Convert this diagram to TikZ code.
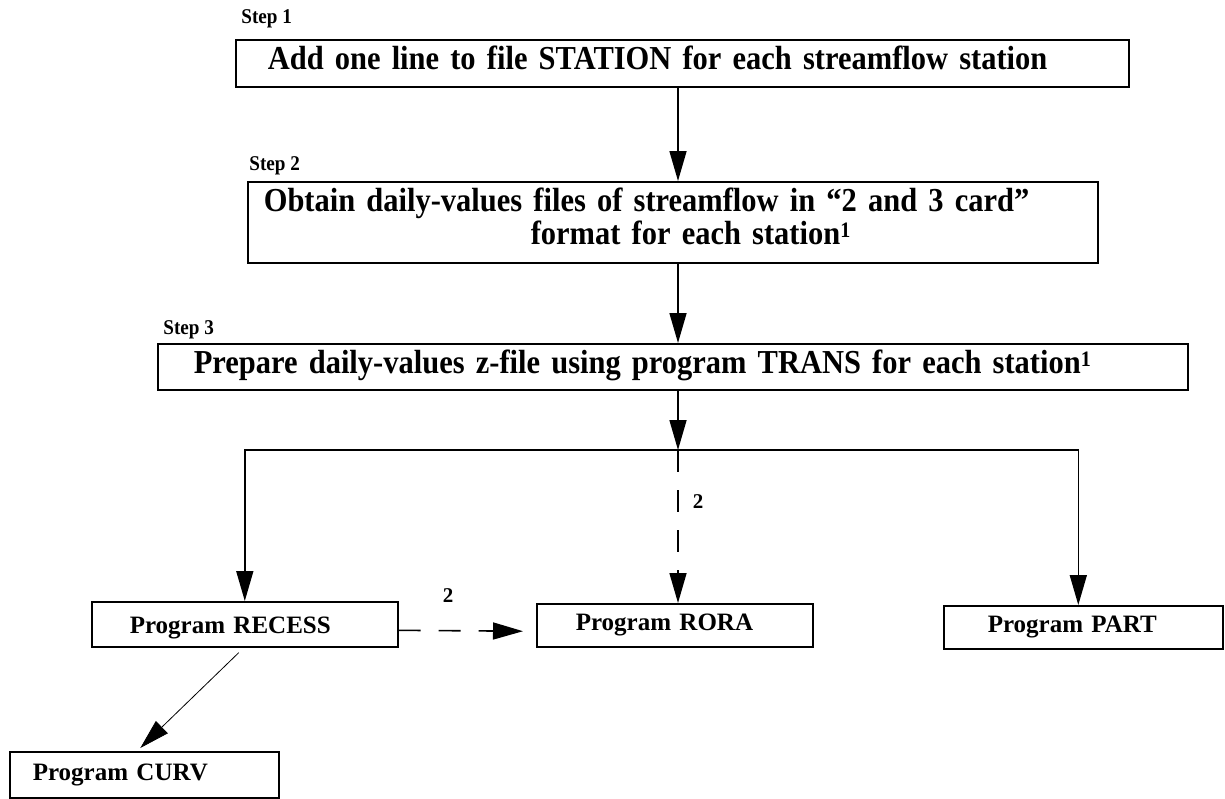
\documentclass[tikz,border=0pt]{standalone}
\usepackage{fontspec}
\setmainfont{Liberation Serif}
\newfontfamily\narrowserif[FakeStretch=0.91]{Liberation Serif}
\newcommand\stepfont{\narrowserif\fontsize{16.75}{16.25}\selectfont\bfseries\setlength{\lineskiplimit}{-20pt}}
\newcommand\notemark[1]{\raisebox{3.5pt}{\fontsize{11}{11}\selectfont #1}}
\usetikzlibrary{arrows.meta}
\begin{document}
\begin{tikzpicture}[x=0.5pt,y=-0.5pt,
stepbox/.style={draw, line width=0.8pt, anchor=north west, align=left, inner ysep=0pt, font=\stepfont},
progbox/.style={draw, line width=0.8pt, anchor=north west, align=left, inner ysep=0pt, font=\fontsize{12.5}{14}\selectfont\bfseries},
steplabel/.style={anchor=base west, inner sep=0pt, font=\narrowserif\fontsize{10.5}{12}\selectfont\bfseries},
note/.style={inner sep=0pt, font=\fontsize{10.5}{12}\selectfont\bfseries},
flow/.style={line width=0.8pt, -{Triangle[length=15pt,width=8.5pt]}},
optional/.style={flow, dash pattern=on 11pt off 9pt}]
\useasboundingbox (0,0) rectangle (1225,798);
\node[steplabel] (s1) at (241,23) {Step 1};
\node[steplabel] (s2) at (249,170) {Step 2};
\node[steplabel] (s3) at (163,334) {Step 3};
\node[stepbox, inner xsep=16pt, text width=414.5pt, text height=15pt, text depth=8.5pt] (station) at (235,39) {Add one line to file STATION for each streamflow station};
\node[stepbox, inner xsep=8pt, text width=409pt, text height=15pt, text depth=25.5pt] (obtain) at (247,181) {Obtain daily-values files of streamflow in “2 and 3 card”\\\hspace*{133.5pt}format for each station\notemark{1}};
\node[stepbox, inner xsep=18pt, text width=479pt, text height=15pt, text depth=8pt] (trans) at (157,343) {Prepare daily-values z-file using program TRANS for each station\notemark{1}};
\node[progbox, inner xsep=19pt, text width=115pt, text height=16pt, text depth=6.5pt] (recess) at (91,601) {Program RECESS};
\node[progbox, inner xsep=19.5pt, text width=99pt, text height=13.5pt, text depth=8pt] (rora) at (536,603) {Program RORA};
\node[progbox, inner xsep=22pt, text width=95.5pt, text height=13.5pt, text depth=8pt] (part) at (943,605) {Program PART};
\node[progbox, inner xsep=11.5pt, text width=111.5pt, text height=14.5pt, text depth=8.5pt] (curv) at (9,751) {Program CURV};
\coordinate (split) at (678,450);
\draw[flow] (station.south -| split) -- (obtain.north -| split);
\draw[flow] (obtain.south -| split) -- (trans.north -| split);
\draw[flow] (trans.south -| split) -- (split);
\draw[flow] (split) -| (recess.north);
\draw[flow] (split) -| ([xshift=-2.5pt]part.north);
\draw[optional] (split) -- (rora.north -| split) node[note, pos=0.34, xshift=10pt] {2};
\draw[optional, shorten >=6.5pt] ([yshift=-3pt]recess.east) -- ([yshift=-3pt]rora.west) node[note, pos=0.36, yshift=17.5pt] {2};
\draw[flow, line width=0.4pt] ([xshift=-3pt,yshift=-2.5pt]recess.south) -- ([xshift=-2pt,yshift=1.5pt]curv.north);
\end{tikzpicture}
\end{document}
